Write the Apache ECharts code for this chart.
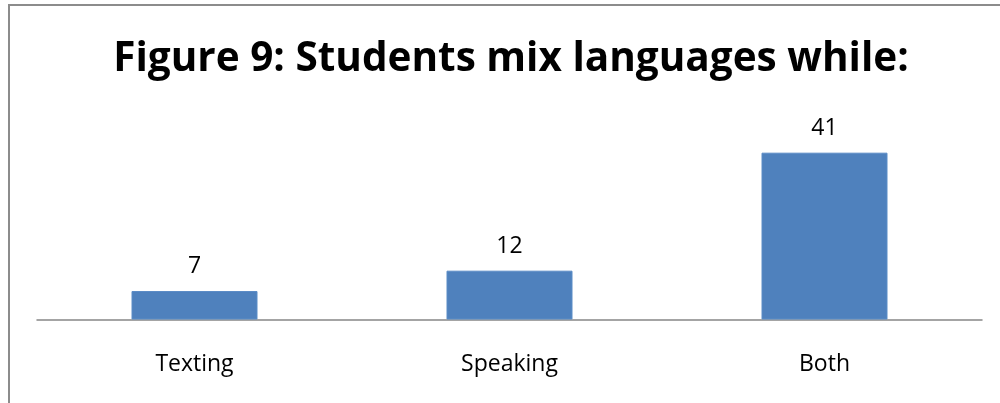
<!DOCTYPE html>
<html>
<head>
<meta charset="utf-8">
<script src="https://cdn.jsdelivr.net/npm/echarts@6/dist/echarts.min.js"></script>
<style>
  html, body { margin: 0; padding: 0; background: #fff; overflow: hidden; }
  #chart { width: 1000px; height: 403px; }
</style>
</head>
<body>
<div id="chart"></div>
<script>
// Survey answers: where students mix languages
const categories = ['Texting', 'Speaking', 'Both'];
const counts = [7, 12, 41];
const titleText = 'Figure 9: Students mix languages while:';

const chart = echarts.init(document.getElementById('chart'), null, { renderer: 'canvas' });

chart.setOption({
  animation: false,
  backgroundColor: '#ffffff',
  title: {
    text: titleText,
    left: 511,
    textAlign: 'center',
    top: 39,
    padding: 0,
    textStyle: {
      fontFamily: 'Open Sans',
      fontWeight: 'bold',
      fontSize: 40.5,
      color: '#000000'
    }
  },
  // Chart frame: left and top edges only, the rest runs off the page
  graphic: [{
    type: 'polyline',
    silent: true,
    shape: { points: [[9, 420], [9, 5], [1020, 5]] },
    style: { fill: null, stroke: '#8c8c8c', lineWidth: 2 }
  }],
  grid: { left: 37, right: 18, top: 136.4, bottom: 83.5 },
  xAxis: {
    type: 'category',
    data: categories,
    axisLine: { lineStyle: { color: '#878787', width: 1.5 } },
    axisTick: { show: false },
    axisLabel: {
      margin: 33,
      fontFamily: 'Open Sans',
      fontSize: 23,
      color: '#000000'
    }
  },
  yAxis: {
    type: 'value',
    min: 0,
    max: 45,
    show: false,
    splitLine: { show: false }
  },
  series: [{
    type: 'bar',
    data: counts,
    barCategoryGap: '60%',
    itemStyle: { color: '#4f81bd', borderColor: '#5b8cc6', borderWidth: 1 },
    label: {
      show: true,
      position: 'top',
      distance: 13,
      fontFamily: 'Open Sans',
      fontSize: 23,
      color: '#000000'
    }
  }]
});
</script>
</body>
</html>
